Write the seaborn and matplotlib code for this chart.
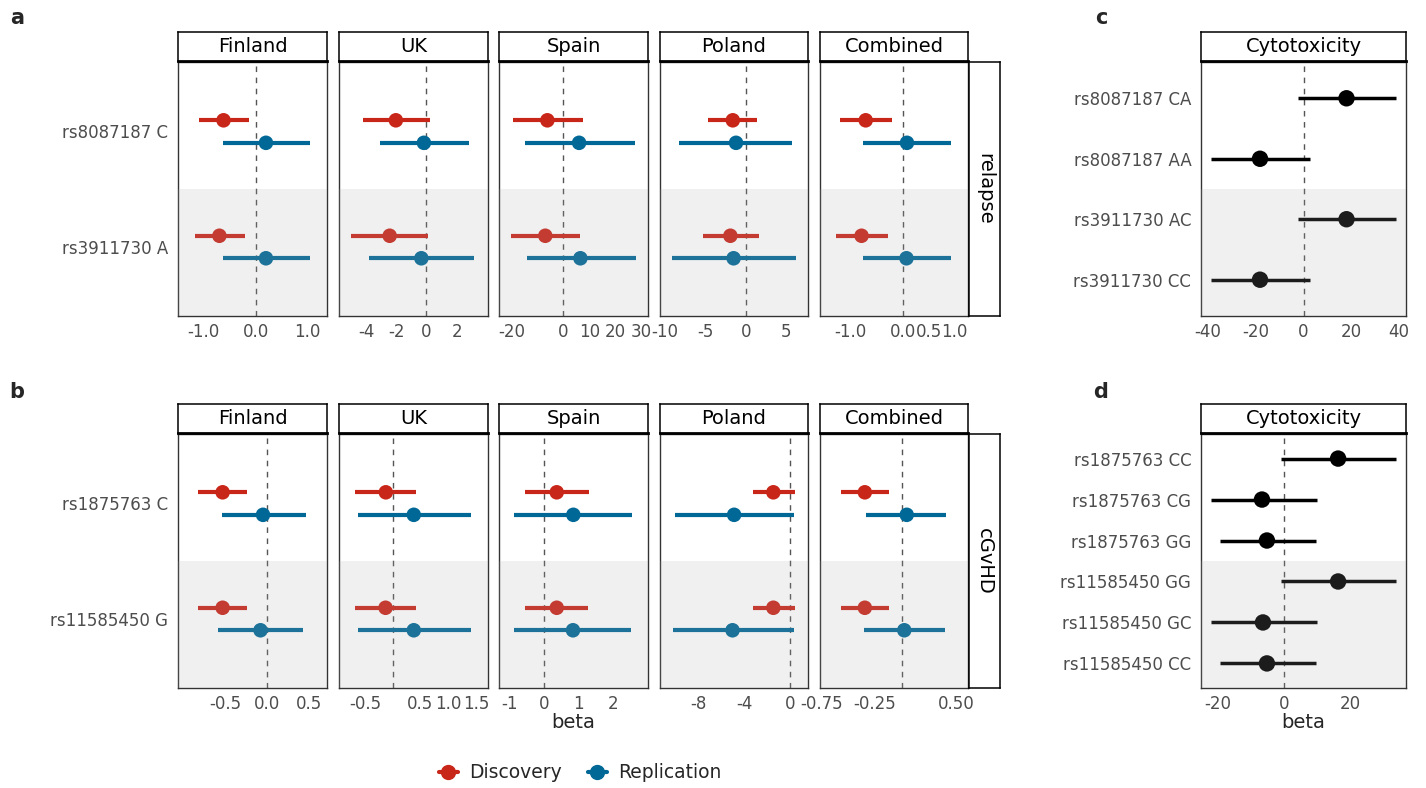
import numpy as np
import matplotlib
matplotlib.use("Agg")
import matplotlib.pyplot as plt
from matplotlib.lines import Line2D
import seaborn as sns

# -------------------- data --------------------
countries = ["Finland", "UK", "Spain", "Poland", "Combined"]

relapse_snps = ["rs8087187 C", "rs3911730 A"]
# one row per country, one value per SNP
relapse_disc_beta = [[-0.62, -0.70], [-2.03, -2.44], [-6.2, -7.0], [-1.6, -1.9], [-0.71, -0.79]]
relapse_disc_lo = [[-1.09, -1.18], [-4.2, -5.0], [-19.5, -20.1], [-4.7, -5.3], [-1.20, -1.28]]
relapse_disc_hi = [[-0.13, -0.21], [0.21, 0.10], [7.5, 6.5], [1.4, 1.6], [-0.21, -0.29]]
relapse_rep_beta = [[0.20, 0.20], [-0.17, -0.34], [6.0, 6.5], [-1.2, -1.5], [0.085, 0.075]]
relapse_rep_lo = [[-0.63, -0.63], [-3.1, -3.8], [-14.9, -14.1], [-8.2, -9.1], [-0.76, -0.77]]
relapse_rep_hi = [[1.05, 1.05], [2.85, 3.13], [27.4, 27.8], [5.7, 6.2], [0.93, 0.94]]
relapse_xlim = [(-1.5, 1.38), (-5.8, 4.08), (-24.8, 32.5), (-10.6, 7.7), (-1.59, 1.26)]
relapse_ticks = [[-1, 0, 1], [-4, -2, 0, 2], [-20, 0, 10, 20, 30], [-10, -5, 0, 5], [-1, 0, 0.5, 1]]
relapse_ticklabels = [["-1.0", "0.0", "1.0"], ["-4", "-2", "0", "2"], ["-20", "0", "10", "20", "30"],
                      ["-10", "-5", "0", "5"], ["-1.0", "0.0", "0.5", "1.0"]]

cgvhd_snps = ["rs1875763 C", "rs11585450 G"]
cgvhd_disc_beta = [[-0.53, -0.53], [-0.125, -0.13], [0.37, 0.37], [-1.46, -1.46], [-0.345, -0.345]]
cgvhd_disc_lo = [[-0.82, -0.82], [-0.68, -0.68], [-0.54, -0.54], [-3.28, -3.28], [-0.57, -0.57]]
cgvhd_disc_hi = [[-0.24, -0.24], [0.42, 0.42], [1.29, 1.26], [0.44, 0.44], [-0.125, -0.125]]
cgvhd_rep_beta = [[-0.05, -0.08], [0.38, 0.38], [0.85, 0.84], [-4.9, -5.04], [0.043, 0.02]]
cgvhd_rep_lo = [[-0.54, -0.58], [-0.63, -0.63], [-0.86, -0.86], [-10.1, -10.3], [-0.33, -0.355]]
cgvhd_rep_hi = [[0.46, 0.43], [1.41, 1.41], [2.56, 2.53], [0.31, 0.31], [0.41, 0.40]]
cgvhd_xlim = [(-1.06, 0.71), (-0.97, 1.72), (-1.30, 3.01), (-11.4, 1.58), (-0.76, 0.61)]
cgvhd_ticks = [[-0.5, 0, 0.5], [-0.5, 0.5, 1.0, 1.5], [-1, 0, 1, 2], [-8, -4, 0], [-0.75, -0.25, 0.5]]
cgvhd_ticklabels = [["-0.5", "0.0", "0.5"], ["-0.5", "0.5", "1.0", "1.5"], ["-1", "0", "1", "2"],
                    ["-8", "-4", "0"], ["-0.75", "-0.25", "0.50"]]

cyto_c_snps = ["rs8087187 CA", "rs8087187 AA", "rs3911730 AC", "rs3911730 CC"]
cyto_c_beta = [18.0, -18.2, 18.0, -18.2]
cyto_c_lo = [-2.3, -38.6, -2.3, -38.6]
cyto_c_hi = [38.8, 2.8, 38.8, 2.8]

cyto_d_snps = ["rs1875763 CC", "rs1875763 CG", "rs1875763 GG",
               "rs11585450 GG", "rs11585450 GC", "rs11585450 CC"]
cyto_d_beta = [16.4, -6.7, -5.2, 16.4, -6.4, -5.2]
cyto_d_lo = [-0.9, -22.1, -19.4, -0.9, -22.1, -19.4]
cyto_d_hi = [33.9, 10.0, 9.7, 33.9, 10.0, 9.7]

# -------------------- style --------------------
sns.set_style("white")
plt.rcParams["font.family"] = ["DejaVu Sans"]

RED = "#C9261A"
BLUE = "#006896"
TICK_COL = "#4D4D4D"
W, H = 1426, 788

fig = plt.figure(figsize=(W / 100, H / 100), dpi=100)


def px_axes(x0, x1, y0, y1):
    return fig.add_axes([x0 / W, 1 - y1 / H, (x1 - x0) / W, (y1 - y0) / H])


def strip(x0, x1, y0, y1, text, rot=0):
    ax = px_axes(x0, x1, y0, y1)
    ax.set_xticks([])
    ax.set_yticks([])
    ax.set_facecolor("white")
    for s in ax.spines.values():
        s.set_color("black")
        s.set_linewidth(1.1)
    if rot == 0:
        ax.spines["bottom"].set_linewidth(2)
    ax.text(0.5, 0.5, text, ha="center", va="center", rotation=rot,
            fontsize=14, color="black", transform=ax.transAxes)
    return ax


def forest(ax, snps, series, xlim, ticks, ticklabels, band_from, show_y, msize=110, lw=3):
    n = len(snps)
    ax.axvline(0, color="#555555", lw=1, ls=(0, (4, 4)), zorder=1)
    for beta, lo, hi, col, off in series:
        ypos = np.arange(n) + off
        ax.hlines(ypos, lo, hi, color=col, lw=lw, zorder=2)
        sns.scatterplot(x=beta, y=ypos, color=col, s=msize, edgecolor="none",
                        ax=ax, zorder=3, legend=False)
    # shaded lower block (drawn over marks, fades them like the original)
    ax.axhspan(band_from, n - 0.4, color="#a8a8a8", alpha=0.17, lw=0, zorder=4)
    ax.set_ylim(n - 0.4, -0.6)
    ax.set_xlim(*xlim)
    ax.set_xticks(ticks)
    ax.set_xticklabels(ticklabels)
    ax.set_yticks(range(n))
    ax.set_yticklabels(snps if show_y else [])
    ax.set_xlabel("")
    ax.set_ylabel("")
    ax.tick_params(length=0, labelsize=12, colors=TICK_COL)
    ax.tick_params(axis="x", pad=5)
    ax.tick_params(axis="y", pad=7)
    for s in ax.spines.values():
        s.set_color("#333333")
        s.set_linewidth(1.0)


facet_x = [(178, 327), (339, 488), (499, 648), (660, 808), (820, 968)]

# -------------------- panel a: relapse --------------------
for i, (x0, x1) in enumerate(facet_x):
    ax = px_axes(x0, x1, 62, 316)
    series = [
        (relapse_disc_beta[i], relapse_disc_lo[i], relapse_disc_hi[i], RED, -0.095),
        (relapse_rep_beta[i], relapse_rep_lo[i], relapse_rep_hi[i], BLUE, 0.1),
    ]
    forest(ax, relapse_snps, series, relapse_xlim[i], relapse_ticks[i],
           relapse_ticklabels[i], 0.5, i == 0)
    strip(x0, x1, 32, 61, countries[i])
strip(969, 1000, 62, 316, "relapse", rot=-90)

# -------------------- panel b: cGvHD --------------------
for i, (x0, x1) in enumerate(facet_x):
    ax = px_axes(x0, x1, 434, 688)
    series = [
        (cgvhd_disc_beta[i], cgvhd_disc_lo[i], cgvhd_disc_hi[i], RED, -0.095),
        (cgvhd_rep_beta[i], cgvhd_rep_lo[i], cgvhd_rep_hi[i], BLUE, 0.1),
    ]
    forest(ax, cgvhd_snps, series, cgvhd_xlim[i], cgvhd_ticks[i],
           cgvhd_ticklabels[i], 0.5, i == 0)
    strip(x0, x1, 404, 433, countries[i])
strip(969, 1000, 434, 688, "cGvHD", rot=-90)

# -------------------- panel c / d: cytotoxicity --------------------
ax_c = px_axes(1201, 1406, 62, 316)
forest(ax_c, cyto_c_snps, [(cyto_c_beta, cyto_c_lo, cyto_c_hi, "black", 0.0)],
       (-42.9, 42.9), [-40, -20, 0, 20, 40], ["-40", "-20", "0", "20", "40"],
       1.5, True, msize=140, lw=2.5)
strip(1201, 1406, 32, 61, "Cytotoxicity")

ax_d = px_axes(1201, 1406, 434, 688)
forest(ax_d, cyto_d_snps, [(cyto_d_beta, cyto_d_lo, cyto_d_hi, "black", 0.0)],
       (-25.2, 37.0), [-20, 0, 20], ["-20", "0", "20"],
       2.5, True, msize=140, lw=2.5)
strip(1201, 1406, 404, 433, "Cytotoxicity")

# -------------------- labels & legend --------------------
fig.text(573 / W, 1 - 722 / H, "beta", ha="center", va="center", fontsize=14)
fig.text(1303 / W, 1 - 722 / H, "beta", ha="center", va="center", fontsize=14)
for lab, x, y in [("a", 17, 18), ("b", 17, 392), ("c", 1101, 18), ("d", 1101, 392)]:
    fig.text(x / W, 1 - y / H, lab, ha="center", va="center", fontsize=15, fontweight="bold")

handles = [Line2D([0], [0], color=RED, marker="o", markersize=10, lw=3),
           Line2D([0], [0], color=BLUE, marker="o", markersize=10, lw=3)]
fig.legend(handles, ["Discovery", "Replication"], loc="center",
           bbox_to_anchor=(580 / W, 1 - 773 / H), ncol=2, frameon=False,
           fontsize=13.5, handlelength=1.0, columnspacing=1.4, handletextpad=0.6)

fig.savefig("out.png", dpi=100, facecolor="white")
